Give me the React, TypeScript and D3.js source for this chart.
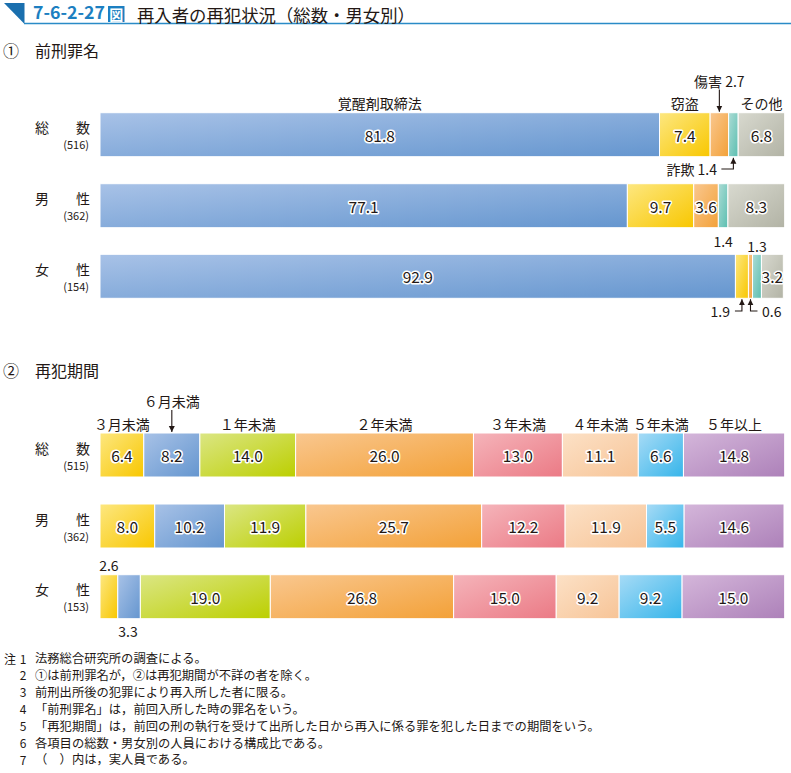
import React from 'react';
import * as d3 from 'd3';

const crimeCategories = ['覚醒剤取締法', '窃盗', '傷害', '詐欺', 'その他'];
const crimeTotal = [81.8, 7.4, 2.7, 1.4, 6.8];
const crimeMale = [77.1, 9.7, 3.6, 1.4, 8.3];
const crimeFemale = [92.9, 1.9, 0.6, 1.3, 3.2];
const crimeCounts = [516, 362, 154];

const periodCategories = ['３月未満', '６月未満', '１年未満', '２年未満', '３年未満', '４年未満', '５年未満', '５年以上'];
const periodTotal = [6.4, 8.2, 14.0, 26.0, 13.0, 11.1, 6.6, 14.8];
const periodMale = [8.0, 10.2, 11.9, 25.7, 12.2, 11.9, 5.5, 14.6];
const periodFemale = [2.6, 3.3, 19.0, 26.8, 15.0, 9.2, 9.2, 15.0];
const periodCounts = [515, 362, 153];

const rowNames = [['総', '数'], ['男', '性'], ['女', '性']];

const notes = [
  '法務総合研究所の調査による。',
  '①は前刑罪名が，②は再犯期間が不詳の者を除く。',
  '前刑出所後の犯罪により再入所した者に限る。',
  '「前刑罪名」は，前回入所した時の罪名をいう。',
  '「再犯期間」は，前回の刑の執行を受けて出所した日から再入に係る罪を犯した日までの期間をいう。',
  '各項目の総数・男女別の人員における構成比である。',
  '（　）内は，実人員である。',
];

const FONT = '"Noto Sans CJK JP", "Noto Sans", sans-serif';
const INK = '#231815';

const crimeColors = [
  ['#a8c2e7', '#6596cf'],
  ['#fde780', '#f8c700'],
  ['#f9c78f', '#f3a138'],
  ['#acdcd5', '#5bbeb0'],
  ['#d8d9cf', '#b2b3a5'],
];
const periodColors = [
  ['#fde780', '#f8c700'],
  ['#a8c2e7', '#6596cf'],
  ['#dbe684', '#bccf00'],
  ['#f9c78f', '#f3a138'],
  ['#f5b4ba', '#eb7a85'],
  ['#fce1c6', '#f7c497'],
  ['#a7dbf6', '#36b5ea'],
  ['#d4b6da', '#ad81b9'],
];

const x = d3.scaleLinear().domain([0, 100]).range([100, 784]);
const BAR_H = 44;

type Seg = { i: number; v: number; x0: number; x1: number; cx: number };
function segs(vals: number[]): Seg[] {
  const cum = Array.from(d3.cumsum(vals));
  return vals.map((v, i) => {
    const s = i === 0 ? 0 : cum[i - 1];
    const x0 = x(s), x1 = x(s + v);
    return { i, v, x0, x1, cx: (x0 + x1) / 2 };
  });
}

function Halo({ x: tx, y, children, size = 15.5, anchor = 'middle' }: any) {
  return (
    <text x={tx} y={y} textAnchor={anchor} dominantBaseline="central" fontSize={size}
      fontFamily={FONT} fill={INK} stroke="#fff" strokeWidth={3} strokeLinejoin="round"
      style={{ paintOrder: 'stroke' }}>{children}</text>
  );
}

function Plain({ x: tx, y, children, size = 14, anchor = 'middle', ...rest }: any) {
  return (
    <text x={tx} y={y} textAnchor={anchor} dominantBaseline="central" fontSize={size}
      fontFamily={FONT} fill={INK} {...rest}>{children}</text>
  );
}

function Bar({ vals, top, prefix, hidden }: { vals: number[]; top: number; prefix: string; hidden: number[] }) {
  const ss = segs(vals);
  return (
    <g>
      {ss.map(s => (
        <rect key={s.i} x={s.x0} y={top} width={s.x1 - s.x0} height={BAR_H}
          fill={`url(#${prefix}${s.i})`} stroke="#fff" strokeWidth={1} />
      ))}
      {ss.filter(s => !hidden.includes(s.i)).map(s => (
        <Halo key={'t' + s.i} x={s.cx} y={top + BAR_H / 2}>{s.v.toFixed(1)}</Halo>
      ))}
    </g>
  );
}

function RowLabel({ idx, top, n }: { idx: number; top: number; n: number }) {
  return (
    <g>
      <Plain x={35} y={top + 14.5} anchor="start" size={14}>{rowNames[idx][0]}</Plain>
      <Plain x={90} y={top + 14.5} anchor="end" size={14}>{rowNames[idx][1]}</Plain>
      <Plain x={89} y={top + 31.5} anchor="end" size={11}>({n})</Plain>
    </g>
  );
}

export default function App() {
  const c1Tops = [112.7, 183.7, 254.3];
  const c2Tops = [433, 504, 574.7];
  const cT = segs(crimeTotal);
  const cM = segs(crimeMale);
  const cF = segs(crimeFemale);
  const pT = segs(periodTotal);
  const pF = segs(periodFemale);

  const grads = (prefix: string, cols: string[][]) => cols.map((c, i) => (
    <linearGradient key={prefix + i} id={prefix + i} x1="0" y1="0" x2="1" y2="1">
      <stop offset="0" stopColor={c[0]} />
      <stop offset="1" stopColor={c[1]} />
    </linearGradient>
  ));

  const line = { stroke: INK, strokeWidth: 1.1, fill: 'none', markerEnd: 'url(#arr)' } as any;

  return (
    <svg width={791} height={773} style={{ position: 'absolute', left: 0, top: 0, background: '#fff' }}
      fontFamily={FONT}>
      <defs>
        {grads('cg', crimeColors)}
        {grads('pg', periodColors)}
        <marker id="arr" viewBox="0 0 10 10" refX="10" refY="5" markerWidth="6" markerHeight="7"
          markerUnits="userSpaceOnUse" orient="auto">
          <path d="M0,0 L10,5 L0,10 z" fill={INK} />
        </marker>
      </defs>
      <rect x={0} y={0} width={791} height={773} fill="#fff" />

      {/* Title */}
      <path d="M4,3 L24.5,3 L24.5,24 Z" fill="#1a6fae" />
      <line x1={24} y1={23.5} x2={791} y2={23.5} stroke="#2a8bc7" strokeWidth={1.5} />
      <text x={33} y={19} fontSize={17.5} fontWeight="bold" fill="#1c7fc1" fontFamily={FONT}
        textLength={72} lengthAdjust="spacingAndGlyphs">7-6-2-27</text>
      <rect x={108} y={6} width={16.5} height={16} fill="#1c7fc1" />
      <text x={116.2} y={14.3} fontSize={14} fontWeight="bold" fill="#fff" textAnchor="middle"
        dominantBaseline="central" fontFamily={FONT}>図</text>
      <text x={137} y={14} fontSize={17.4} fill={INK} dominantBaseline="central" fontFamily={FONT}
        textLength={278} lengthAdjust="spacingAndGlyphs">再入者の再犯状況（総数・男女別）</text>

      {/* Section 1 */}
      <Plain x={3} y={50} anchor="start" size={16}>①</Plain>
      <Plain x={35} y={50} anchor="start" size={16}>前刑罪名</Plain>

      <Plain x={cT[0].cx} y={102.5} size={14}>{crimeCategories[0]}</Plain>
      <Plain x={cT[1].cx} y={103} size={14}>{crimeCategories[1]}</Plain>
      <Plain x={cT[4].cx} y={103} size={14}>{crimeCategories[4]}</Plain>
      <Plain x={cT[2].cx} y={81} size={14}>{crimeCategories[2] + ' ' + crimeTotal[2].toFixed(1)}</Plain>
      <path d={`M${cT[2].cx},89.5 V${c1Tops[0] - 1}`} {...line} />
      <Plain x={717} y={169} anchor="end" size={14}>{crimeCategories[3] + ' ' + crimeTotal[3].toFixed(1)}</Plain>
      <path d={`M${cT[3].cx - 12},169 H${cT[3].cx} V${c1Tops[0] + BAR_H + 1}`} {...line} />

      {[crimeTotal, crimeMale, crimeFemale].map((vals, r) => (
        <g key={r}>
          <RowLabel idx={r} top={c1Tops[r]} n={crimeCounts[r]} />
          <Bar vals={vals} top={c1Tops[r]} prefix="cg"
            hidden={r === 0 ? [2, 3] : r === 1 ? [3] : [1, 2, 3]} />
        </g>
      ))}
      <Plain x={cM[3].cx} y={241} size={14}>{crimeMale[3].toFixed(1)}</Plain>
      <Plain x={cF[3].cx} y={246} size={14}>{crimeFemale[3].toFixed(1)}</Plain>
      <Plain x={730} y={311} anchor="end" size={14}>{crimeFemale[1].toFixed(1)}</Plain>
      <path d={`M${cF[1].cx - 7},311 H${cF[1].cx} V${c1Tops[2] + BAR_H + 1}`} {...line} />
      <Plain x={762} y={311} anchor="start" size={14}>{crimeFemale[2].toFixed(1)}</Plain>
      <path d={`M${cF[2].cx + 7},311 H${cF[2].cx} V${c1Tops[2] + BAR_H + 1}`} {...line} />

      {/* Section 2 */}
      <Plain x={3} y={370} anchor="start" size={16}>②</Plain>
      <Plain x={35} y={370} anchor="start" size={16}>再犯期間</Plain>

      {pT.map(s => s.i === 1 ? null : (
        <Plain key={s.i} x={s.cx} y={424} size={14}>{periodCategories[s.i]}</Plain>
      ))}
      <Plain x={pT[1].cx} y={401} size={14}>{periodCategories[1]}</Plain>
      <path d={`M${pT[1].cx},410 V${c2Tops[0] - 1}`} {...line} />

      {[periodTotal, periodMale, periodFemale].map((vals, r) => (
        <g key={r}>
          <RowLabel idx={r} top={c2Tops[r]} n={periodCounts[r]} />
          <Bar vals={vals} top={c2Tops[r]} prefix="pg" hidden={r === 2 ? [0, 1] : []} />
        </g>
      ))}
      <Plain x={pF[0].cx} y={565} size={14}>{periodFemale[0].toFixed(1)}</Plain>
      <Plain x={pF[1].cx - 1} y={631} size={14}>{periodFemale[1].toFixed(1)}</Plain>

      {/* Notes */}
      <Plain x={4} y={658} anchor="start" size={12}>注</Plain>
      {notes.map((t, i) => (
        <g key={i}>
          <Plain x={23} y={658 + i * 16.9} size={12}>{String(i + 1)}</Plain>
          <Plain x={35} y={658 + i * 16.9} anchor="start" size={12.3}>{t}</Plain>
        </g>
      ))}
    </svg>
  );
}
